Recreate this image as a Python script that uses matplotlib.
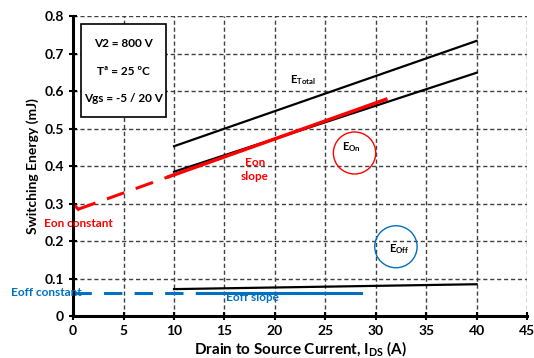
import numpy as np
import matplotlib.pyplot as plt
from matplotlib.patches import Ellipse, Rectangle

# data
etotal_x = [10, 40]
etotal_y = [0.453, 0.734]
eon_x = [10, 40]
eon_y = [0.385, 0.649]
eon_const_x = [0, 0.5]
eon_const_y = [0.299, 0.285]
eon_dash_x = [0.5, 9.5]
eon_dash_y = [0.285, 0.372]
eon_slope_x = [9.5, 31]
eon_slope_y = [0.372, 0.578]
eoff_x = [10, 40]
eoff_y = [0.072, 0.085]
eoff_const_x = [0, 12.4]
eoff_const_y = [0.062, 0.062]
eoff_slope_x = [12.4, 28.5]
eoff_slope_y = [0.062, 0.062]

xticks = np.arange(0, 46, 5)
yticks = np.round(np.arange(0, 0.81, 0.1), 1)
conditions = ['V2 = 800 V', 'Tª = 25 ºC', 'Vgs = -5 / 20 V']

plt.rcParams['font.family'] = ['Lato', 'DejaVu Sans']
red = '#ff0000'
blue = '#0070c0'

fig = plt.figure(figsize=(5.34, 3.58), dpi=100)
ax = fig.add_axes([0.137, 0.117, 0.85, 0.838])

ax.plot(etotal_x, etotal_y, color='black', lw=1.6)
ax.plot(eon_x, eon_y, color='black', lw=1.6)
ax.plot(eoff_x, eoff_y, color='black', lw=1.6)
ax.plot(eon_const_x, eon_const_y, color=red, lw=2.2)
ax.plot(eon_dash_x, eon_dash_y, color=red, lw=2.2, dashes=(6, 4))
ax.plot(eon_slope_x, eon_slope_y, color=red, lw=2.5)
ax.plot(eoff_const_x, eoff_const_y, color=blue, lw=2.2, dashes=(6, 4))
ax.plot(eoff_slope_x, eoff_slope_y, color=blue, lw=2.2)

ax.set_xlim(0, 45)
ax.set_ylim(0, 0.8)
ax.set_xticks(xticks)
ax.set_yticks(yticks)
ax.set_xticklabels([str(v) for v in xticks], fontweight='bold', fontsize=10)
ax.set_yticklabels(['0'] + [f'{v:.1f}' for v in yticks[1:]], fontweight='bold', fontsize=10)
ax.grid(True, color='#404040', ls=(0, (3, 2)), lw=1.0)
ax.set_axisbelow(True)
for s in ['top', 'right']:
    ax.spines[s].set_visible(False)
for s in ['left', 'bottom']:
    ax.spines[s].set_linewidth(2.2)
ax.tick_params(direction='inout', length=6, width=1.5)

ax.set_xlabel('Drain to Source Current, I$_{\\mathregular{DS}}$ (A)', fontweight='bold', fontsize=11,
              labelpad=2)
ax.set_ylabel('Switching Energy (mJ)', fontweight='bold', fontsize=10, labelpad=4)

# conditions box
ax.add_patch(Rectangle((0.8, 0.531), 8.4, 0.248, fill=True, fc='white', ec='black', lw=1.2, zorder=3))
for txt, yy in zip(conditions, [0.728, 0.653, 0.579]):
    ax.text(5.0, yy, txt, ha='center', va='center', fontsize=8.5, fontweight='bold', zorder=4)

ax.text(21.5, 0.63, 'E$_{\\mathregular{Total}}$', fontsize=8, fontweight='bold', ha='left', va='center')
ax.text(26.7, 0.45, 'E$_{\\mathregular{On}}$', fontsize=8, fontweight='bold', ha='left', va='center')
ax.text(31.3, 0.18, 'E$_{\\mathregular{Off}}$', fontsize=8, fontweight='bold', ha='left', va='center')
ax.add_patch(Ellipse((27.9, 0.435), 4.2, 0.112, fill=False, ec=red, lw=1.0))
ax.add_patch(Ellipse((32.0, 0.185), 4.2, 0.112, fill=False, ec=blue, lw=1.0))

ax.text(18.0, 0.41, 'Eon', color=red, fontsize=8.5, fontweight='bold', ha='center', va='center')
ax.text(18.0, 0.372, 'slope', color=red, fontsize=8.5, fontweight='bold', ha='center', va='center')
ax.text(-2.9, 0.248, 'Eon constant', color=red, fontsize=8.5, fontweight='bold', ha='left', va='center',
        clip_on=False)
ax.text(-6.2, 0.063, 'Eoff constant', color=blue, fontsize=8.5, fontweight='bold', ha='left', va='center',
        clip_on=False)
ax.text(15.2, 0.05, 'Eoff slope', color=blue, fontsize=8.5, fontweight='bold', ha='left', va='center')

fig.savefig('out.png', dpi=100)
